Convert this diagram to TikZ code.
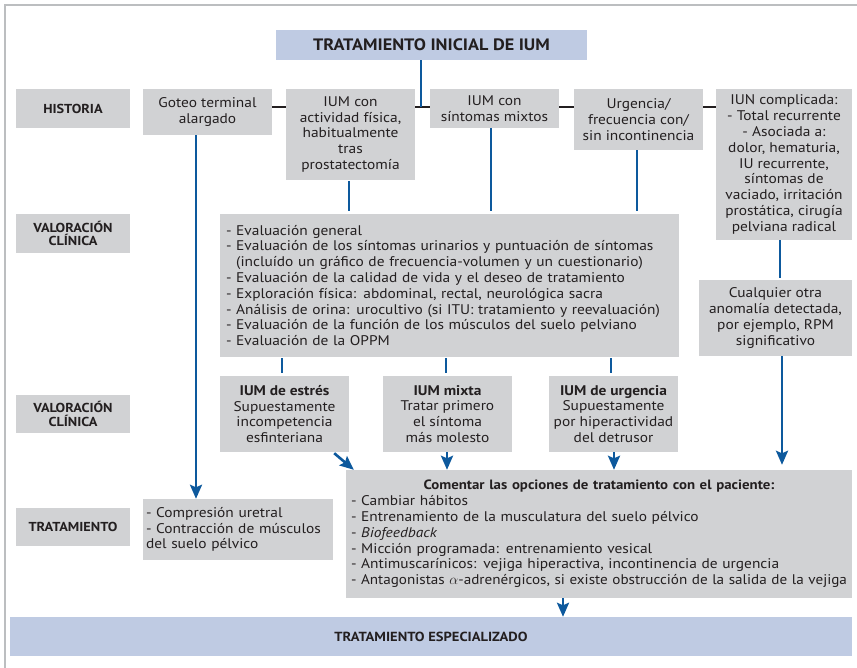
\documentclass[tikz,border=0pt]{standalone}
\usepackage{fontspec}
\setmainfont{PT Sans}[FakeStretch=1.1]
\usetikzlibrary{arrows.meta,calc}
\definecolor{boxgray}{HTML}{D1D2D4}
\definecolor{boxblue}{HTML}{BFCBE3}
\definecolor{lineblue}{HTML}{0D599D}
\definecolor{txt}{HTML}{231F20}
\definecolor{frame}{HTML}{BCBEC0}
\tikzset{
  box/.style={fill=boxgray, inner sep=0pt, text=txt, align=center,
    font=\fontsize{14}{15.8}\selectfont},
  lab/.style={box, font=\bfseries\fontsize{13}{13.5}\selectfont,
    minimum width=114pt},
  bluebox/.style={fill=boxblue, inner sep=0pt, text=txt, align=center},
  blu/.style={draw=lineblue, line width=2.6pt},
  blk/.style={draw=txt, line width=2.5pt},
  arr/.style={-{Stealth[length=14pt,width=12pt,inset=2.5pt]}},
}
\begin{document}
\begin{tikzpicture}[x=1pt,y=-1pt]
\useasboundingbox (0,0) rectangle (857,668);
\draw[frame, line width=1.8pt] (5,668) -- (5,5) -- (857,5);

% title
\node[bluebox, minimum width=311pt, minimum height=30pt,
  font=\bfseries\fontsize{16.5}{18}\selectfont] (title) at (431.5,45) {TRATAMIENTO INICIAL DE IUM};

% row labels
\node[lab, minimum height=39pt] (hist) at (73,108.5) {HISTORIA};
\node[lab, minimum height=39pt] (val1) at (73,233.5) {VALORACIÓN\\CLÍNICA};
\node[lab, minimum height=38pt] (val2) at (73,414) {VALORACIÓN\\CLÍNICA};
\node[lab, minimum height=38pt] (trat) at (73,527) {TRATAMIENTO};

% history row
\node[box, minimum width=129pt, minimum height=46pt] (goteo) at (207.5,112) {Goteo terminal\\alargado};
\node[box, minimum width=129pt, minimum height=91pt] (activ) at (350.5,134.5) {IUM con\\actividad física,\\habitualmente\\tras\\prostatectomía};
\node[box, minimum width=129pt, minimum height=39pt] (mixtos) at (494.5,108.5) {IUM con\\síntomas mixtos};
\node[box, minimum width=129pt, minimum height=61pt] (urg) at (638.5,119.5) {Urgencia/\\frecuencia con/\\sin incontinencia};
\node[box, minimum width=136pt, minimum height=151pt] (iun) at (784,164.5) {IUN complicada:\\- Total recurrente\\- Asociada a:\\dolor, hematuria,\\IU recurrente,\\síntomas de\\vaciado, irritación\\prostática, cirugía\\pelviana radical};

% clinical evaluation
\node[box, align=left, text width=447pt, inner xsep=6pt, minimum height=143pt] (eval) at (449.5,285.5) {- Evaluación general\\
- Evaluación de los síntomas urinarios y puntuación de síntomas\\
\hphantom{- }(incluído un gráfico de frecuencia-volumen y un cuestionario)\\
- Evaluación de la calidad de vida y el deseo de tratamiento\\
- Exploración física: abdominal, rectal, neurológica sacra\\
- Análisis de orina: urocultivo (si ITU: tratamiento y reevaluación)\\
- Evaluación de la función de los músculos del suelo pelviano\\
- Evaluación de la OPPM};
\node[box, minimum width=153pt, minimum height=76pt] (cual) at (775.5,318) {Cualquier otra\\anomalía detectada,\\por ejemplo, RPM\\significativo};

% diagnosis row
\node[box, minimum width=129pt, minimum height=76pt] (estres) at (284.5,414) {\textbf{IUM de estrés}\\Supuestamente\\incompetencia\\esfinteriana};
\node[box, minimum width=129pt, minimum height=76pt] (mixta) at (447.5,414) {\textbf{IUM mixta}\\Tratar primero\\el síntoma\\más molesto};
\node[box, minimum width=129pt, minimum height=76pt] (urgen) at (613.5,414) {\textbf{IUM de urgencia}\\Supuestamente\\por hiperactividad\\del detrusor};

% treatment row
\node[box, align=left, text width=184pt, inner xsep=3pt, minimum height=61pt] (compr) at (238,529.5) {- Compresión uretral\\- Contracción de músculos\\del suelo pélvico};
\node[box, align=left, text width=496pt, inner xsep=5pt, minimum height=128pt] (coment) at (599,534) {\makebox[\linewidth][c]{\bfseries\fontsize{13.5}{15.8}\selectfont Comentar las opciones de tratamiento con el paciente:}\\
- Cambiar hábitos\\
- Entrenamiento de la musculatura del suelo pélvico\\
- \textit{Biofeedback}\\
- Micción programada: entrenamiento vesical\\
- Antimuscarínicos: vejiga hiperactiva, incontinencia de urgencia\\
\resizebox{496pt}{\height}{- Antagonistas $\alpha$-adrenérgicos, si existe obstrucción de la salida de la vejiga}};

\node[bluebox, minimum width=842pt, minimum height=39pt,
  font=\bfseries\fontsize{13.2}{15}\selectfont] (esp) at (431,636.5) {TRATAMIENTO ESPECIALIZADO};

% connectors
\coordinate (hl) at (0,107);
\draw[blk] (goteo.east |- hl) -- (activ.west |- hl);
\draw[blk] (activ.east |- hl) -- (mixtos.west |- hl);
\draw[blk] (mixtos.east |- hl) -- (urg.west |- hl);
\draw[blk] (urg.east |- hl) -- (iun.west |- hl);
\coordinate (xt) at (421,0);
\draw[blu] (title.south -| xt) -- (hl -| xt);

\coordinate (xg) at (196,0);
\draw[blu, arr] (goteo.south -| xg) -- (compr.north -| xg);
\coordinate (xa) at (349,0);
\draw[blu, shorten <=1pt, shorten >=3pt] (activ.south -| xa) -- (eval.north -| xa);
\coordinate (xm) at (491,0);
\draw[blu, shorten >=3pt] (mixtos.south -| xm) -- (eval.north -| xm);
\coordinate (xu) at (637,0);
\draw[blu, shorten >=3pt] (urg.south -| xu) -- (eval.north -| xu);
\coordinate (xi) at (780,0);
\draw[blu, shorten >=2pt] (iun.south -| xi) -- (cual.north -| xi);

\coordinate (x1) at (282,0);
\draw[blu, shorten <=1pt, shorten >=3pt] (eval.south -| x1) -- (estres.north -| x1);
\coordinate (x2) at (446,0);
\draw[blu, shorten <=1pt, shorten >=3pt] (eval.south -| x2) -- (mixta.north -| x2);
\coordinate (x3) at (611,0);
\draw[blu, shorten <=1pt, shorten >=3pt] (eval.south -| x3) -- (urgen.north -| x3);

\coordinate (xc) at (782,0);
\draw[blu, arr, shorten >=5pt] (cual.south -| xc) -- (coment.north -| xc);
\draw[blu, arr] ($(estres.south east)+(-15,1)$) -- ($(coment.north west)+(8,0)$);
\coordinate (x4) at (447,0);
\draw[blu, arr] (mixta.south -| x4) -- (coment.north -| x4);
\coordinate (x5) at (614,0);
\draw[blu, arr] (urgen.south -| x5) -- (coment.north -| x5);
\coordinate (x6) at (563,0);
\draw[blu, arr] (coment.south -| x6) -- (esp.north -| x6);
\end{tikzpicture}
\end{document}
